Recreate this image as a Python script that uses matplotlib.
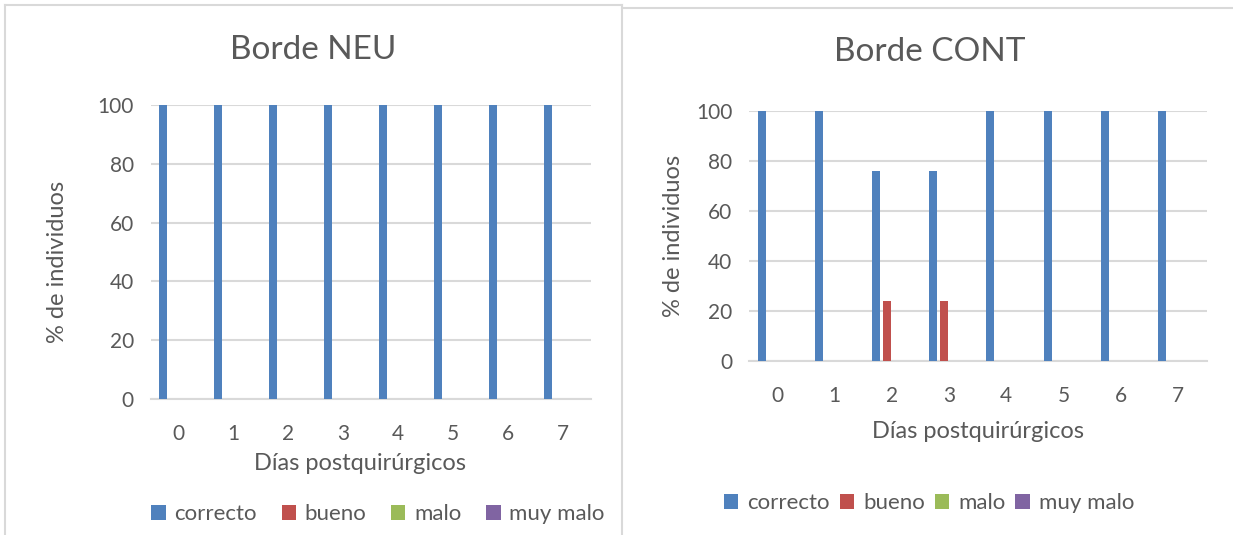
import matplotlib.pyplot as plt
from matplotlib.patches import Patch
from matplotlib.lines import Line2D
import numpy as np

plt.rcParams['font.family'] = ['Lato', 'DejaVu Sans']

# Datos: porcentaje de individuos por categoría y día postquirúrgico
dias = [0, 1, 2, 3, 4, 5, 6, 7]
categorias = ["correcto", "bueno", "malo", "muy malo"]
colores = ["#4F81BD", "#C0504D", "#9BBB59", "#8064A2"]

neu_correcto = [100, 100, 100, 100, 100, 100, 100, 100]
neu_bueno = [0, 0, 0, 0, 0, 0, 0, 0]
neu_malo = [0, 0, 0, 0, 0, 0, 0, 0]
neu_muy_malo = [0, 0, 0, 0, 0, 0, 0, 0]

cont_correcto = [100, 100, 76, 76, 100, 100, 100, 100]
cont_bueno = [0, 0, 24, 24, 0, 0, 0, 0]
cont_malo = [0, 0, 0, 0, 0, 0, 0, 0]
cont_muy_malo = [0, 0, 0, 0, 0, 0, 0, 0]

GRIS_TEXTO = "#595959"
GRIS_LINEA = "#D9D9D9"

W, H = 1233, 535
fig = plt.figure(figsize=(W / 100, H / 100), dpi=100)


def px(x, y):
    # pixeles (origen arriba a la izquierda) -> fracción de figura
    return x / W, 1 - y / H


def panel(caja, series, titulo, pos_titulo, pos_ylabel, pos_xlabel,
          pos_leyenda, sep_columnas):
    x0, y0, x1, y1 = caja
    ax = fig.add_axes([x0 / W, 1 - y1 / H, (x1 - x0) / W, (y1 - y0) / H])
    x = np.arange(len(dias))
    paso = 0.185
    for i, valores in enumerate(series):
        ax.bar(x + (i - 1.5) * paso, valores, width=paso * 0.76,
               color=colores[i], zorder=3)

    ax.set_xlim(-0.5, len(dias) - 0.5)
    ax.set_ylim(0, 100)
    ax.set_yticks(range(0, 101, 20))
    ax.set_xticks(x)
    ax.set_xticklabels([str(d) for d in dias])
    ax.yaxis.grid(True, color=GRIS_LINEA, linewidth=1.5, zorder=0)
    for lado in ["top", "right", "left"]:
        ax.spines[lado].set_visible(False)
    ax.spines["bottom"].set_color(GRIS_LINEA)
    ax.spines["bottom"].set_linewidth(1.5)
    ax.tick_params(length=0, labelsize=15, colors=GRIS_TEXTO)
    ax.tick_params(axis="x", pad=18)
    ax.tick_params(axis="y", pad=12)

    fig.text(*px(*pos_titulo), titulo, ha="center", va="center",
             fontsize=24, color=GRIS_TEXTO)
    fig.text(*px(*pos_ylabel), "% de individuos", ha="center", va="center",
             rotation=90, fontsize=17, color=GRIS_TEXTO)
    fig.text(*px(*pos_xlabel), "Días postquirúrgicos", ha="center", va="center",
             fontsize=17, color=GRIS_TEXTO)

    handles = [Patch(facecolor=c, edgecolor="none") for c in colores]
    fig.legend(handles, categorias, loc="center", bbox_to_anchor=px(*pos_leyenda),
               ncol=4, frameon=False, fontsize=16, handlelength=0.65,
               handleheight=0.65, handletextpad=0.4, columnspacing=sep_columnas,
               labelcolor=GRIS_TEXTO)
    return ax


panel((150.5, 105, 590.5, 399),
      [neu_correcto, neu_bueno, neu_malo, neu_muy_malo],
      "Borde NEU", (313, 50), (58, 262), (360, 463), (378, 514), 1.1)

panel((749, 111, 1206.5, 361),
      [cont_correcto, cont_bueno, cont_malo, cont_muy_malo],
      "Borde CONT", (930, 52), (673, 236), (978, 432), (929, 503), 0.45)

# marcos de los dos gráficos
bordes = [
    [(5, 5), (622, 5)],
    [(5, 5), (5, 535)],
    [(622, 5), (622, 535)],
    [(622, 8), (1233, 8)],
]
for (xa, ya), (xb, yb) in bordes:
    fig.add_artist(Line2D([xa / W, xb / W], [1 - ya / H, 1 - yb / H],
                          transform=fig.transFigure, color=GRIS_LINEA,
                          linewidth=1.5))

fig.savefig("out.png", dpi=100)
